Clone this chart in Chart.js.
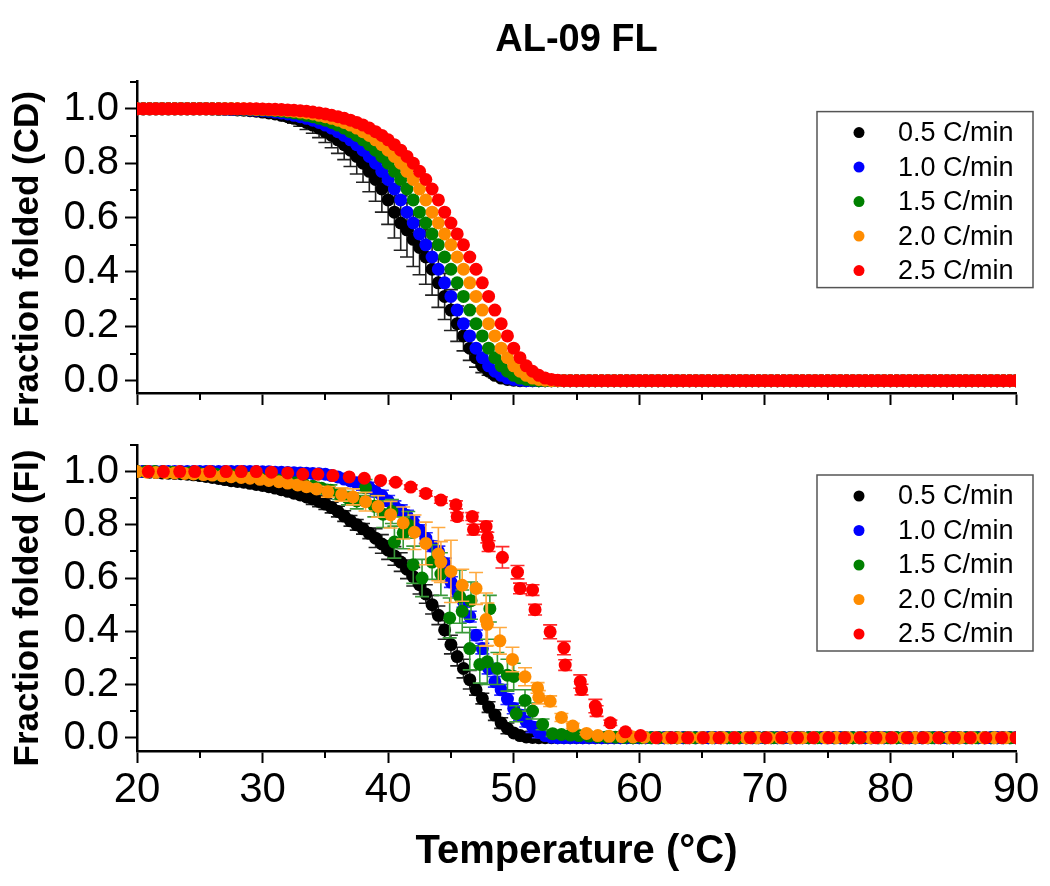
<!DOCTYPE html>
<html>
<head>
<meta charset="utf-8">
<title>AL-09 FL</title>
<script src="https://cdn.jsdelivr.net/npm/chart.js@4.4.1/dist/chart.umd.min.js"></script>
<style>
  html, body { margin: 0; padding: 0; background: #fff; }
  #wrap { position: relative; width: 1050px; height: 886px; overflow: hidden; background: #fff; }
  canvas { position: absolute; left: 0; }
  #cdCanvas { top: 0; z-index: 2; }
  #fiCanvas { top: 415px; z-index: 1; }
</style>
</head>
<body>
<div id="wrap">
  <canvas id="fiCanvas" width="1050" height="471"></canvas>
  <canvas id="cdCanvas" width="1050" height="450"></canvas>
</div>
<script>
var family = "'Liberation Sans', Arial, sans-serif";
Chart.defaults.font.family = family;
Chart.defaults.color = '#000';

var rateLabels = ['0.5 C/min', '1.0 C/min', '1.5 C/min', '2.0 C/min', '2.5 C/min'];
var rateColors = ['#000000', '#0000ff', '#008000', '#ff8c00', '#ff0000'];
var barColors = ['#222222', '#3030ff', '#3a9a3a', '#ffaa40', '#ff2a2a'];

var xTicks = [20, 30, 40, 50, 60, 70, 80, 90];
var xMinorTicks = [25, 35, 45, 55, 65, 75, 85];
var yTicks = [0, 0.2, 0.4, 0.6, 0.8, 1.0];
var yMinorTicks = [0.1, 0.3, 0.5, 0.7, 0.9, 1.1];

// temperature grid shared by the CD runs and the slow FI runs
var tempGrid = [
  20,20.5,21,21.5,22,22.5,23,23.5,24,24.5,25,25.5,26,26.5,27,27.5,28,28.5,29,29.5,
  30,30.5,31,31.5,32,32.5,33,33.5,34,34.5,35,35.5,36,36.5,37,37.5,38,38.5,39,39.5,
  40,40.5,41,41.5,42,42.5,43,43.5,44,44.5,45,45.5,46,46.5,47,47.5,48,48.5,49,49.5,
  50,50.5,51,51.5,52,52.5,53,53.5,54,54.5,55,55.5,56,56.5,57,57.5,58,58.5,59,59.5,
  60,60.5,61,61.5,62,62.5,63,63.5,64,64.5,65,65.5,66,66.5,67,67.5,68,68.5,69,69.5,
  70,70.5,71,71.5,72,72.5,73,73.5,74,74.5,75,75.5,76,76.5,77,77.5,78,78.5,79,79.5,
  80,80.5,81,81.5,82,82.5,83,83.5,84,84.5,85,85.5,86,86.5,87,87.5,88,88.5,89,89.5,
  90];

// ---- CD panel ----
var cdBlack = [
  1,1,1,1,1,1,1,1,1,1,1,1,.999,.998,.998,.997,.996,.995,.993,.991,
  .988,.985,.981,.976,.971,.965,.958,.95,.94,.929,.916,.902,.886,.868,.848,.825,.8,.77,.74,.705,
  .665,.62,.58,.555,.52,.49,.455,.41,.36,.31,.26,.21,.165,.12,.085,.055,.035,.02,.01,.005,
  .002,0,0,0,0,0,0,0,0,0,0,0,0,0,0,0,0,0,0,0,
  0,0,0,0,0,0,0,0,0,0,0,0,0,0,0,0,0,0,0,0,
  0,0,0,0,0,0,0,0,0,0,0,0,0,0,0,0,0,0,0,0,
  0,0,0,0,0,0,0,0,0,0,0,0,0,0,0,0,0,0,0,0,
  0];
var cdBlackErr = [
  0,0,0,0,0,0,0,0,0,0,0,0,0,0,0,0,0,0,0,0,
  .005,.007,.01,.012,.015,.018,.022,.026,.03,.035,.04,.045,.05,.055,.06,.065,.07,.075,.08,.085,
  .09,.095,.1,.1,.1,.1,.1,.095,.09,.085,.075,.065,.055,.045,.035,.025,.015,.01,.005,0,
  0,0,0,0,0,0,0,0,0,0,0,0,0,0,0,0,0,0,0,0,
  0,0,0,0,0,0,0,0,0,0,0,0,0,0,0,0,0,0,0,0,
  0,0,0,0,0,0,0,0,0,0,0,0,0,0,0,0,0,0,0,0,
  0,0,0,0,0,0,0,0,0,0,0,0,0,0,0,0,0,0,0,0,
  0];
var cdBlue = [
  1,1,1,1,1,1,1,1,1,1,1,1,1,1,.999,.998,.998,.997,.996,.995,
  .993,.991,.988,.985,.981,.976,.971,.965,.958,.95,.94,.929,.916,.902,.886,.868,.848,.825,.8,.77,
  .74,.705,.665,.62,.58,.54,.5,.455,.41,.36,.31,.26,.21,.165,.12,.085,.055,.035,.02,.01,
  .005,.002,0,0,0,0,0,0,0,0,0,0,0,0,0,0,0,0,0,0,
  0,0,0,0,0,0,0,0,0,0,0,0,0,0,0,0,0,0,0,0,
  0,0,0,0,0,0,0,0,0,0,0,0,0,0,0,0,0,0,0,0,
  0,0,0,0,0,0,0,0,0,0,0,0,0,0,0,0,0,0,0,0,
  0];
var cdGreen = [
  1,1,1,1,1,1,1,1,1,1,1,1,1,1,1,1,.999,.998,.998,.997,
  .996,.995,.993,.991,.988,.985,.981,.976,.971,.965,.958,.95,.94,.929,.916,.902,.886,.868,.848,.825,
  .8,.77,.74,.705,.665,.62,.58,.54,.5,.455,.41,.36,.31,.26,.21,.165,.12,.085,.055,.035,
  .02,.01,.005,.002,0,0,0,0,0,0,0,0,0,0,0,0,0,0,0,0,
  0,0,0,0,0,0,0,0,0,0,0,0,0,0,0,0,0,0,0,0,
  0,0,0,0,0,0,0,0,0,0,0,0,0,0,0,0,0,0,0,0,
  0,0,0,0,0,0,0,0,0,0,0,0,0,0,0,0,0,0,0,0,
  0];
var cdOrange = [
  1,1,1,1,1,1,1,1,1,1,1,1,1,1,1,1,1,1,.999,.998,
  .998,.997,.996,.995,.993,.991,.988,.985,.981,.976,.971,.965,.958,.95,.94,.929,.916,.902,.886,.868,
  .848,.825,.8,.77,.74,.705,.665,.62,.58,.54,.5,.455,.41,.36,.31,.26,.21,.165,.12,.085,
  .055,.035,.02,.01,.005,.002,0,0,0,0,0,0,0,0,0,0,0,0,0,0,
  0,0,0,0,0,0,0,0,0,0,0,0,0,0,0,0,0,0,0,0,
  0,0,0,0,0,0,0,0,0,0,0,0,0,0,0,0,0,0,0,0,
  0,0,0,0,0,0,0,0,0,0,0,0,0,0,0,0,0,0,0,0,
  0];
var cdRed = [
  1,1,1,1,1,1,1,1,1,1,1,1,1,1,1,1,1,1,1,1,
  .999,.998,.998,.997,.996,.995,.993,.991,.988,.985,.981,.976,.971,.965,.958,.95,.94,.929,.916,.902,
  .886,.868,.848,.825,.8,.77,.74,.705,.665,.62,.58,.54,.5,.455,.41,.36,.31,.26,.21,.165,
  .12,.085,.055,.035,.02,.01,.005,.002,0,0,0,0,0,0,0,0,0,0,0,0,
  0,0,0,0,0,0,0,0,0,0,0,0,0,0,0,0,0,0,0,0,
  0,0,0,0,0,0,0,0,0,0,0,0,0,0,0,0,0,0,0,0,
  0,0,0,0,0,0,0,0,0,0,0,0,0,0,0,0,0,0,0,0,
  0];

// ---- FI panel ----
var fiBlack = [
  1,1,.998,.997,.995,.994,.993,.992,.99,.988,.985,.982,.978,.974,.97,.966,.963,.96,.956,.952,
  .948,.943,.938,.932,.926,.919,.912,.905,.897,.888,.878,.865,.85,.833,.815,.8,.785,.768,.75,.728,
  .705,.683,.66,.633,.605,.575,.54,.5,.46,.405,.35,.305,.26,.218,.18,.147,.115,.085,.055,.035,
  .018,.008,.003,.001,0,0,0,0,0,0,0,0,0,0,0,0,0,0,0,0,
  0,0,0,0,0,0,0,0,0,0,0,0,0,0,0,0,0,0,0,0,
  0,0,0,0,0,0,0,0,0,0,0,0,0,0,0,0,0,0,0,0,
  0,0,0,0,0,0,0,0,0,0,0,0,0,0,0,0,0,0,0,0,
  0];
var fiBlackErr = [
  0,0,0,0,0,0,0,0,0,0,0,0,0,0,.01,.01,.01,.01,.01,.01,
  .01,.01,.01,.01,.01,.01,.01,.01,.02,.02,.02,.02,.02,.02,.02,.02,.02,.02,.035,.035,
  .035,.035,.035,.035,.035,.035,.035,.035,.035,.035,.035,.035,.035,.035,.02,.02,.02,.02,.02,.02,
  0,0,0,0,0,0,0,0,0,0,0,0,0,0,0,0,0,0,0,0,
  0,0,0,0,0,0,0,0,0,0,0,0,0,0,0,0,0,0,0,0,
  0,0,0,0,0,0,0,0,0,0,0,0,0,0,0,0,0,0,0,0,
  0,0,0,0,0,0,0,0,0,0,0,0,0,0,0,0,0,0,0,0,
  0];
var fiBlue = [
  1,1,1,1,1,1,1,1,1,1,1,1,1,1,1,1,1,1,1,1,
  .999,.999,.998,.998,.997,.996,.995,.994,.993,.992,.99,.985,.98,.972,.965,.958,.95,.94,.925,.91,
  .89,.87,.855,.835,.81,.78,.75,.72,.7,.655,.585,.55,.51,.455,.385,.335,.26,.21,.18,.145,
  .11,.085,.06,.04,.02,.008,.002,0,0,0,0,0,0,0,0,0,0,0,0,0,
  0,0,0,0,0,0,0,0,0,0,0,0,0,0,0,0,0,0,0,0,
  0,0,0,0,0,0,0,0,0,0,0,0,0,0,0,0,0,0,0,0,
  0,0,0,0,0,0,0,0,0,0,0,0,0,0,0,0,0,0,0,0,
  0];
var fiBlueErr = [
  0,0,0,0,0,0,0,0,0,0,0,0,0,0,0,0,0,0,0,0,
  0,0,0,0,0,0,0,0,0,0,0,0,0,0,0,0,.02,.02,.02,.02,
  .02,.02,.02,.02,.02,.02,.02,.02,.02,.02,.02,.02,.02,.02,.02,.02,.02,.02,.02,.02,
  .02,.02,.02,.02,.02,0,0,0,0,0,0,0,0,0,0,0,0,0,0,0,
  0,0,0,0,0,0,0,0,0,0,0,0,0,0,0,0,0,0,0,0,
  0,0,0,0,0,0,0,0,0,0,0,0,0,0,0,0,0,0,0,0,
  0,0,0,0,0,0,0,0,0,0,0,0,0,0,0,0,0,0,0,0,
  0];

var fiGreenT = [
  20,20.7,21.4,22.1,22.8,23.5,24.2,24.9,25.6,26.3,27,27.7,28.4,29.1,29.8,30.5,31.2,31.9,32.6,33.3,34,34.7,35.4,
  36.1,36.8,37.5,38.2,38.9,39.6,40.3,40.5,41.2,41.6,42,42.7,43.5,44.2,44.9,45.7,45.9,46.5,46.6,47.3,
  47.9,48.1,48.7,49.5,50,50.2,50.9,51.5,52.3,53.1,53.8,54.5,55.2,56,56.7,57.4,58.1,58.8,59.5,
  60.2,60.9,61.6,62.3,63,63.7,64.4,65.1,65.8,66.5,67.2,67.9,68.6,69.3,70,70.7,71.4,72.1,72.8,73.5,74.2,
  74.9,75.6,76.3,77,77.7,78.4,79.1,79.8,80.5,81.2,81.9,82.6,83.3,84,84.7,85.4,86.1,86.8,87.5,88.2,88.9,89.6];
var fiGreen = [
  1,1,1,.999,.998,.997,.996,.995,.993,.99,.988,.985,.982,.979,.976,.972,.968,.963,.958,.952,.945,.937,.93,
  .915,.9,.89,.94,.87,.84,.85,.735,.77,.8,.65,.6,.66,.615,.45,.53,.475,.335,.515,.275,
  .285,.485,.26,.235,.23,.09,.14,.1,.05,.015,.012,.01,.008,.006,.004,.003,.002,.001,0,
  0,0,0,0,0,0,0,0,0,0,0,0,0,0,0,0,0,0,0,0,0,
  0,0,0,0,0,0,0,0,0,0,0,0,0,0,0,0,0,0,0,0,0,0];
var fiGreenErr = [
  0,0,0,0,0,0,0,0,0,0,0,0,0,0,0,.005,.005,.01,.01,.01,.015,.015,.02,
  .02,.025,.03,.03,.04,.05,.045,.06,.06,.05,.07,.07,.065,.08,.075,.1,.08,.08,.07,.07,
  .085,.05,.06,.06,.05,.03,.04,.03,.02,.01,.005,.005,0,0,0,0,0,0,0,
  0,0,0,0,0,0,0,0,0,0,0,0,0,0,0,0,0,0,0,0,0,
  0,0,0,0,0,0,0,0,0,0,0,0,0,0,0,0,0,0,0,0,0,0];

var fiOrangeT = [
  20,20.8,21.5,22.3,23,23.8,24.5,25.3,26,26.8,27.5,28.3,29,29.8,30.5,31.3,32,32.8,33.5,34.3,
  35.2,36.3,37.2,38.2,39.2,40.2,41.2,42.1,43,44,44.2,45,45.9,47,47.8,47.9,48.9,49.9,50.9,51.9,
  52,52.9,53.8,54.7,55.8,56.7,57.6,58.6,59.5,60.4,
  61.3,62.2,63.1,64,64.9,65.8,66.7,67.6,68.5,69.4,70.3,71.2,72.1,73,73.9,74.8,
  75.7,76.6,77.5,78.4,79.3,80.2,81.1,82,82.9,83.8,84.7,85.6,86.5,87.4,88.3,89.2];
var fiOrange = [
  1,.998,.997,.996,.995,.993,.991,.989,.987,.984,.981,.978,.975,.971,.967,.962,.957,.95,.943,.935,
  .924,.914,.905,.887,.869,.838,.807,.772,.73,.69,.66,.625,.573,.561,.444,.426,.364,.294,.229,.187,
  .152,.137,.076,.044,.016,.008,.005,.004,.003,.002,
  0,0,0,0,0,0,0,0,0,0,0,0,0,0,0,0,
  0,0,0,0,0,0,0,0,0,0,0,0,0,0,0,0];
var fiOrangeErr = [
  0,0,0,0,0,0,0,0,0,0,.005,.005,.005,.005,.005,.005,.01,.01,.01,.01,
  .02,.025,.03,.035,.04,.05,.06,.065,.08,.1,.077,.117,.06,.06,.1,.08,.05,.046,.034,.02,
  .025,.02,.015,.01,.005,0,0,0,0,0,
  0,0,0,0,0,0,0,0,0,0,0,0,0,0,0,0,
  0,0,0,0,0,0,0,0,0,0,0,0,0,0,0,0];

var fiRedT = [
  20.9,22.1,23.4,24.6,25.8,27.1,28.3,29.5,30.7,32,33.2,34.4,35.6,36.9,38.1,39.4,40.6,41.8,43,44.2,
  45.4,45.5,46.7,46.8,47.8,47.9,48,49.1,50.3,50.5,51.5,51.7,52.9,54,54.1,55.3,55.4,56.5,56.6,57.7,
  58.9,60.1,61.35,62.6,63.85,65.1,66.35,67.6,68.85,70.1,71.35,72.6,73.85,75.1,76.35,77.6,
  78.85,80.1,81.35,82.6,83.85,85.1,86.35,87.6,88.85,90];
var fiRed = [
  1,1,1,1,1,1,1,1,.998,.995,.99,.99,.985,.98,.975,.967,.96,.942,.918,.893,
  .875,.831,.831,.782,.794,.752,.72,.678,.622,.561,.555,.481,.398,.337,.273,.211,.181,.119,.1,.056,
  .022,.008,0,0,0,0,0,0,0,0,0,0,0,0,0,0,
  0,0,0,0,0,0,0,0,0,0];
var fiRedErr = [
  0,0,0,0,0,0,0,0,0,0,0,0,0,0,0,0,.005,.008,.01,.012,
  .015,.015,.015,.02,.02,.02,.02,.04,.025,.02,.02,.02,.026,.025,.02,.025,.02,.025,.02,.01,
  .005,0,0,0,0,0,0,0,0,0,0,0,0,0,0,0,
  0,0,0,0,0,0,0,0,0,0];

function Pairs(xs, ys) {
    return xs.map(function (x, i) { return { x: x, y: ys[i] }; });
}

function MakeSet(i, xs, ys, errs) {
    return {
        label: rateLabels[i],
        data: Pairs(xs, ys),
        errors: errs || null,
        errColor: barColors[i],
        backgroundColor: rateColors[i],
        borderColor: rateColors[i],
        pointRadius: 6.5,
        pointHoverRadius: 6.5,
        pointBorderWidth: 0,
        showLine: false,
        order: 5 - i   // later runs sit on top, like the original plot
    };
}

// vertical error bars, drawn just under each run's own symbols
var errorBars = {
    id: 'errorBars',
    beforeDatasetDraw: function (chart, args) {
        var ds = chart.data.datasets[args.index];
        if (!ds.errors) return;
        var ctx = chart.ctx, yScale = chart.scales.y;
        ctx.save();
        ctx.strokeStyle = ds.errColor;
        ctx.lineWidth = 1.6;
        ctx.beginPath();
        args.meta.data.forEach(function (pt, i) {
            var e = ds.errors[i];
            if (!e) return;
            var v = ds.data[i].y;
            var hi = yScale.getPixelForValue(v + e), lo = yScale.getPixelForValue(v - e);
            ctx.moveTo(pt.x, hi); ctx.lineTo(pt.x, lo);
            ctx.moveTo(pt.x - 7, hi); ctx.lineTo(pt.x + 7, hi);
            ctx.moveTo(pt.x - 7, lo); ctx.lineTo(pt.x + 7, lo);
        });
        ctx.stroke();
        ctx.restore();
    }
};

var minorTicks = {
    id: 'minorTicks',
    afterDraw: function (chart) {
        var ctx = chart.ctx, a = chart.chartArea, xs = chart.scales.x, ys = chart.scales.y;
        ctx.save();
        ctx.strokeStyle = '#000';
        ctx.lineWidth = 2;
        ctx.beginPath();
        xMinorTicks.forEach(function (v) {
            var p = Math.round(xs.getPixelForValue(v));
            ctx.moveTo(p, a.bottom); ctx.lineTo(p, a.bottom + 7);
        });
        yMinorTicks.forEach(function (v) {
            var p = Math.round(ys.getPixelForValue(v));
            ctx.moveTo(a.left, p); ctx.lineTo(a.left - 7, p);
        });
        ctx.stroke();
        ctx.restore();
    }
};

var sideTitle = {
    id: 'sideTitle',
    afterDraw: function (chart, args, opts) {
        var ctx = chart.ctx, a = chart.chartArea;
        ctx.save();
        ctx.translate(opts.x, (a.top + a.bottom) / 2 + opts.shift);
        ctx.rotate(-Math.PI / 2);
        ctx.font = 'bold 35px ' + family;
        ctx.fillStyle = '#000';
        ctx.textAlign = 'center';
        ctx.textBaseline = 'middle';
        ctx.fillText(opts.text, 0, 0);
        ctx.restore();
    }
};

// boxed legend sitting in the top right corner of the plot
var boxLegend = {
    id: 'boxLegend',
    afterDraw: function (chart) {
        var ctx = chart.ctx, a = chart.chartArea;
        var left = a.right - 199, top = a.top + 30, w = 216, h = 176;
        ctx.save();
        ctx.fillStyle = '#fff';
        ctx.fillRect(left, top, w, h);
        ctx.strokeStyle = '#555';
        ctx.lineWidth = 1.5;
        ctx.strokeRect(left, top, w, h);
        ctx.font = '27px ' + family;
        ctx.textAlign = 'left';
        ctx.textBaseline = 'middle';
        chart.data.datasets.forEach(function (ds, i) {
            var cy = top + 21 + i * 34.5;
            ctx.fillStyle = ds.backgroundColor;
            ctx.beginPath();
            ctx.arc(left + 42, cy, 5.5, 0, Math.PI * 2);
            ctx.fill();
            ctx.fillStyle = '#000';
            ctx.fillText(ds.label, left + 81, cy + 1);
        });
        ctx.restore();
    }
};

function MakeChart(id, sets, o) {
    return new Chart(document.getElementById(id), {
        type: 'scatter',
        data: { datasets: sets },
        options: {
            responsive: false,
            animation: false,
            events: [],
            layout: { padding: { left: 0, right: 34, top: o.padTop, bottom: 0 } },
            plugins: {
                legend: { display: false },
                tooltip: { enabled: false },
                title: {
                    display: !!o.title,
                    text: o.title || '',
                    fullSize: false,
                    color: '#000',
                    font: { size: 38, weight: 'bold' },
                    padding: { top: 18, bottom: 18 }
                },
                sideTitle: { text: o.yTitle, x: 28, shift: o.shift }
            },
            scales: {
                x: {
                    type: 'linear',
                    min: 20,
                    max: 90,
                    afterBuildTicks: function (s) {
                        s.ticks = xTicks.map(function (v) { return { value: v }; });
                    },
                    afterFit: function (s) { s.height = o.xHeight; },
                    border: { display: true, color: '#000', width: 2.5 },
                    grid: { display: true, drawOnChartArea: false, drawTicks: true, tickLength: 12, tickWidth: 2, tickColor: '#000' },
                    ticks: { display: o.xLabels, color: '#000', font: { size: 42 }, padding: 2, maxRotation: 0, autoSkip: false },
                    title: {
                        display: !!o.xTitle,
                        text: o.xTitle || '',
                        color: '#000',
                        font: { size: 40, weight: 'bold' },
                        padding: { top: 0, bottom: 10 }
                    }
                },
                y: {
                    type: 'linear',
                    min: o.yMin,
                    max: 1.1,
                    afterBuildTicks: function (s) {
                        s.ticks = yTicks.map(function (v) { return { value: v }; });
                    },
                    afterFit: function (s) { s.width = 137; },
                    border: { display: true, color: '#000', width: 2.5 },
                    grid: { display: true, drawOnChartArea: false, drawTicks: true, tickLength: 12, tickWidth: 2, tickColor: '#000' },
                    ticks: {
                        color: '#000',
                        font: { size: 40 },
                        padding: 6,
                        callback: function (v) { return v.toFixed(1); }
                    }
                }
            }
        },
        plugins: [errorBars, minorTicks, sideTitle, boxLegend]
    });
}

var cdSets = [
    MakeSet(0, tempGrid, cdBlack, cdBlackErr),
    MakeSet(1, tempGrid, cdBlue),
    MakeSet(2, tempGrid, cdGreen),
    MakeSet(3, tempGrid, cdOrange),
    MakeSet(4, tempGrid, cdRed)
];

var fiSets = [
    MakeSet(0, tempGrid, fiBlack, fiBlackErr),
    MakeSet(1, tempGrid, fiBlue, fiBlueErr),
    MakeSet(2, fiGreenT, fiGreen, fiGreenErr),
    MakeSet(3, fiOrangeT, fiOrange, fiOrangeErr),
    MakeSet(4, fiRedT, fiRed, fiRedErr)
];

// the CD canvas runs 35px into the FI canvas so its rotated title is not cut off
MakeChart('cdCanvas', cdSets, {
    title: 'AL-09 FL',
    yTitle: 'Fraction folded (CD)',
    shift: 22,
    padTop: 0,
    xHeight: 57,
    xLabels: false,
    yMin: -0.045
});

MakeChart('fiCanvas', fiSets, {
    yTitle: 'Fraction folded (FI)',
    xTitle: 'Temperature (\u00b0C)',
    shift: 10,
    padTop: 25,
    xHeight: 135,
    xLabels: true,
    yMin: -0.05
});
</script>
</body>
</html>
